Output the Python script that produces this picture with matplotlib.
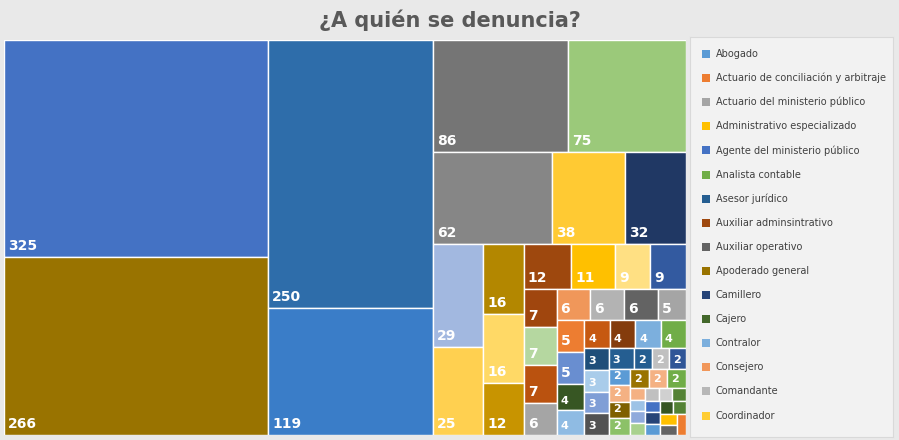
import matplotlib.pyplot as plt
from matplotlib.patches import Rectangle

# tile values (in layout order) and their colours
values = [325, 266, 250, 119, 86, 75, 62, 38, 32, 29, 25, 16, 16, 12, 12, 11, 9, 9,
          7, 7, 7, 6, 6, 6, 6, 5, 5, 5, 4, 4, 4, 4, 4, 4, 3, 3, 3, 3, 3,
          2, 2, 2, 2, 2, 2, 2, 2, 2, 2] + [1] * 15
tile_colors = ["#4472C4", "#997300", "#2E6DAA", "#3A7DC8", "#757575", "#9BC97A", "#868686",
               "#FFCA33", "#203864", "#A2B8E0", "#FFD050", "#B38700", "#FFD966", "#C89400",
               "#9E480E", "#FFC000", "#FFE083", "#335AA0", "#A0460E", "#B5D7A0", "#BA520F",
               "#A5A5A5", "#F0975A", "#B3B3B3", "#636363", "#A5A5A5", "#ED7D31", "#698ED0",
               "#375623", "#8FBBE3", "#C65911", "#843C0C", "#7CAFDD", "#70AD47",
               "#1F4E79", "#A9CCEA", "#7F9ED6", "#525252", "#255E91",
               "#255E91", "#C0C0C0", "#2F5597", "#5B9BD5", "#F4B183", "#7F6000",
               "#8CC168", "#997300", "#F4B183", "#70AD47",
               "#F4B183", "#9DC3E6", "#8FAADC", "#A9D18E", "#C0C0C0", "#D0D0D0",
               "#548235", "#4472C4", "#264478", "#5B9BD5", "#375623", "#548235",
               "#FFC000", "#636363", "#ED7D31"]
# how many tiles go in each strip of the layout (the rest is squarified)
groups = [2, 2, 2, 3, 2, 3, 4, 4, 4, 4, 4, 4]

legend_labels = ["Abogado", "Actuario de conciliación y arbitraje", "Actuario del ministerio público",
                 "Administrativo especializado", "Agente del ministerio público", "Analista contable",
                 "Asesor jurídico", "Auxiliar adminsintrativo", "Auxiliar operativo",
                 "Apoderado general", "Camillero", "Cajero", "Contralor", "Consejero",
                 "Comandante", "Coordinador"]
legend_colors = ["#5B9BD5", "#ED7D31", "#A5A5A5", "#FFC000", "#4472C4", "#70AD47", "#255E91",
                 "#9E480E", "#636363", "#997300", "#264478", "#43682B", "#7CAFDD", "#F1975A",
                 "#B7B7B7", "#FFCD33"]


def worst(row, side):
    s = sum(row)
    return max(max(side * side * r / (s * s), s * s / (side * side * r)) for r in row)


def layout_row(row, x, y, w, h, out):
    s = sum(row)
    if w >= h:  # column on the left
        cw = s / h
        yy = y
        for r in row:
            out.append((x, yy, cw, r / cw))
            yy += r / cw
        return x + cw, y, w - cw, h
    rh = s / w
    xx = x
    for r in row:
        out.append((xx, y, r / rh, rh))
        xx += r / rh
    return x, y + rh, w, h - rh


def treemap(vals, x, y, w, h):
    total = sum(vals)
    areas = [v * w * h / total for v in vals]
    out, i = [], 0
    for g in groups:
        x, y, w, h = layout_row(areas[i:i + g], x, y, w, h, out)
        i += g
    row = []
    while i < len(areas):
        side = min(w, h)
        a = areas[i]
        if not row or worst(row + [a], side) <= worst(row, side):
            row.append(a)
            i += 1
        else:
            x, y, w, h = layout_row(row, x, y, w, h, out)
            row = []
    if row:
        layout_row(row, x, y, w, h, out)
    return out


W, H = 682, 395
fig = plt.figure(figsize=(8.99, 4.40), dpi=100)
fig.patch.set_facecolor("#E9E9E9")
fig.text(0.5, 0.953, "¿A quién se denuncia?", ha="center", va="center",
         fontsize=15, fontweight="bold", color="#595959")

ax = fig.add_axes([4 / 899, 5 / 440, W / 899, H / 440])
ax.set_xlim(0, W)
ax.set_ylim(H, 0)
ax.axis("off")
for (x, y, w, h), v, c in zip(treemap(values, 0, 0, W, H), values, tile_colors):
    ax.add_patch(Rectangle((x, y), w, h, facecolor=c, edgecolor="white", linewidth=1))
    if h >= 14 and w >= 12:
        fs = 10 if h > 30 else 8
        ax.text(x + 4, y + h - 4, str(v), color="white", fontsize=fs, fontweight="bold",
                ha="left", va="bottom")

# legend panel
lax = fig.add_axes([690 / 899, 3 / 440, 203 / 899, 400 / 440])
lax.set_xlim(0, 203)
lax.set_ylim(400, 0)
lax.set_facecolor("#F2F2F2")
lax.set_xticks([])
lax.set_yticks([])
for sp in lax.spines.values():
    sp.set_color("#D9D9D9")
for i, (lab, c) in enumerate(zip(legend_labels, legend_colors)):
    yy = 17 + i * 24.1
    lax.add_patch(Rectangle((12, yy - 4), 8, 8, facecolor=c, edgecolor="none"))
    lax.text(26, yy, lab, fontsize=7, color="#404040", va="center", ha="left")

fig.savefig("out.png", dpi=100, facecolor=fig.get_facecolor())
